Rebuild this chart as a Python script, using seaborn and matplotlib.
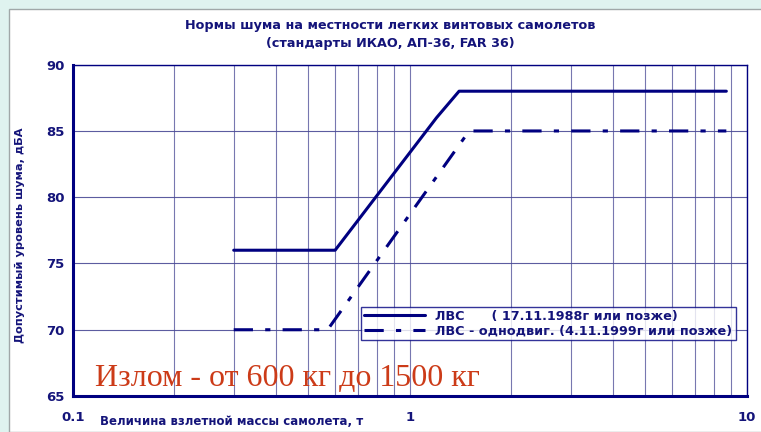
import numpy as np
import pandas as pd
import matplotlib
matplotlib.use("Agg")
import matplotlib.pyplot as plt
from matplotlib.patches import Rectangle
from matplotlib.ticker import FixedLocator, NullFormatter
import seaborn as sns

# data (mass in tonnes, noise limit in dB(A))
mass_lvs = [0.3, 0.6, 1.2, 1.4, 8.7]
noise_lvs = [76, 76, 86, 88, 88]
mass_single = [0.3, 0.57, 1.5, 8.7]
noise_single = [70, 70, 85, 85]

label_lvs = "ЛВС      ( 17.11.1988г или позже)"
label_single = "ЛВС - однодвиг. (4.11.1999г или позже)"
x_ticks = [0.1, 1, 10]
x_tick_labels = ["0.1", "1", "10"]
y_ticks = [65, 70, 75, 80, 85, 90]

navy = "#000080"
text_navy = "#14147a"
grid_col = "#4a4a96"

sns.set_style("white")
plt.rcParams["font.family"] = ["DejaVu Sans"]

fig = plt.figure(figsize=(7.61, 4.32), dpi=100)
fig.patch.set_facecolor("#dff3ef")
fig.patches.append(Rectangle((9 / 761, 0), 1, (432 - 9) / 432, transform=fig.transFigure,
                             facecolor="white", edgecolor="#a0a8a8", lw=1, zorder=-10))

ax = fig.add_axes([73 / 761, 36 / 432, (746.7 - 73) / 761, (396 - 64.7) / 432])
ax.set_facecolor("none")
ax.set_zorder(2)

df_lvs = pd.DataFrame({"mass": mass_lvs, "noise": noise_lvs})
df_single = pd.DataFrame({"mass": mass_single, "noise": noise_single})

sns.lineplot(data=df_lvs, x="mass", y="noise", ax=ax, color=navy, lw=2.2,
             sort=False, label=label_lvs, zorder=3)
sns.lineplot(data=df_single, x="mass", y="noise", ax=ax, color=navy, lw=2.2,
             sort=False, label=label_single, zorder=3)
ax.lines[1].set_linestyle((0, (6.3, 4, 1.7, 4)))

ax.set_xscale("log")
ax.set_xlim(0.1, 10)
ax.set_ylim(65, 90)

minor_x = [m * d for d in (0.1, 1) for m in range(2, 10)]
ax.xaxis.set_major_locator(FixedLocator(x_ticks))
ax.xaxis.set_minor_locator(FixedLocator(minor_x))
ax.xaxis.set_minor_formatter(NullFormatter())
ax.set_xticklabels(x_tick_labels)
ax.set_yticks(y_ticks)
ax.yaxis.set_minor_locator(FixedLocator(np.arange(65, 91, 1)))

for xv in minor_x + x_ticks[1:]:
    ax.axvline(xv, color=grid_col, lw=0.8, alpha=0.75, zorder=1)
for yv in y_ticks[1:]:
    ax.axhline(yv, color=grid_col, lw=0.8, alpha=0.9, zorder=1)

for side in ("left", "bottom"):
    ax.spines[side].set_color(navy)
    ax.spines[side].set_linewidth(2.2)
for side in ("top", "right"):
    ax.spines[side].set_color(navy)
    ax.spines[side].set_linewidth(1)

ax.tick_params(axis="x", which="major", direction="out", length=4, width=1.5,
               colors=navy, pad=7, labelsize=9.5, labelcolor=text_navy)
ax.tick_params(axis="x", which="minor", direction="inout", length=3, width=1.5, colors=navy)
ax.tick_params(axis="y", which="major", direction="out", length=4, width=1.5,
               colors=navy, pad=2, labelsize=9.5, labelcolor=text_navy)
ax.tick_params(axis="y", which="minor", direction="in", length=3, width=1.5, colors=navy)
for lab in ax.get_xticklabels() + ax.get_yticklabels():
    lab.set_fontweight("bold")

ax.set_xlabel("Величина взлетной массы самолета, т", fontsize=8.5, fontweight="bold",
              color=text_navy, ha="left", va="baseline")
ax.xaxis.set_label_coords(0.04, -0.0875)
ax.set_ylabel("Допустимый уровень шума, дБА", fontsize=8.2, fontweight="bold",
              color=text_navy, va="center")
ax.yaxis.set_label_coords(-0.078, 0.486)

fig.text(390 / 761, 1 - 25 / 432, "Нормы шума на местности легких винтовых самолетов",
         ha="center", va="center", fontsize=9.2, fontweight="bold", color=text_navy)
fig.text(390 / 761, 1 - 44 / 432, "(стандарты ИКАО, АП-36, FAR 36)",
         ha="center", va="center", fontsize=9.2, fontweight="bold", color=text_navy)

leg = ax.legend(loc="upper left", bbox_to_anchor=((360.7 - 73) / 673.7, (396 - 306.7) / 331.3),
                frameon=True, fancybox=False, fontsize=9.2, handlelength=4.8,
                borderpad=0.25, labelspacing=0.1, handletextpad=0.8, borderaxespad=0)
leg.get_frame().set_edgecolor(navy)
leg.get_frame().set_linewidth(1)
for t in leg.get_texts():
    t.set_color(text_navy)
    t.set_fontweight("bold")

ax.text(95 / 761, 1 - 378 / 432, "Излом - от 600 кг до 1500 кг", transform=fig.transFigure,
        fontsize=23, family=["Liberation Serif"], color="#cc3b18", ha="left", va="center",
        zorder=4)

fig.savefig("out.png", dpi=100, facecolor=fig.get_facecolor())
